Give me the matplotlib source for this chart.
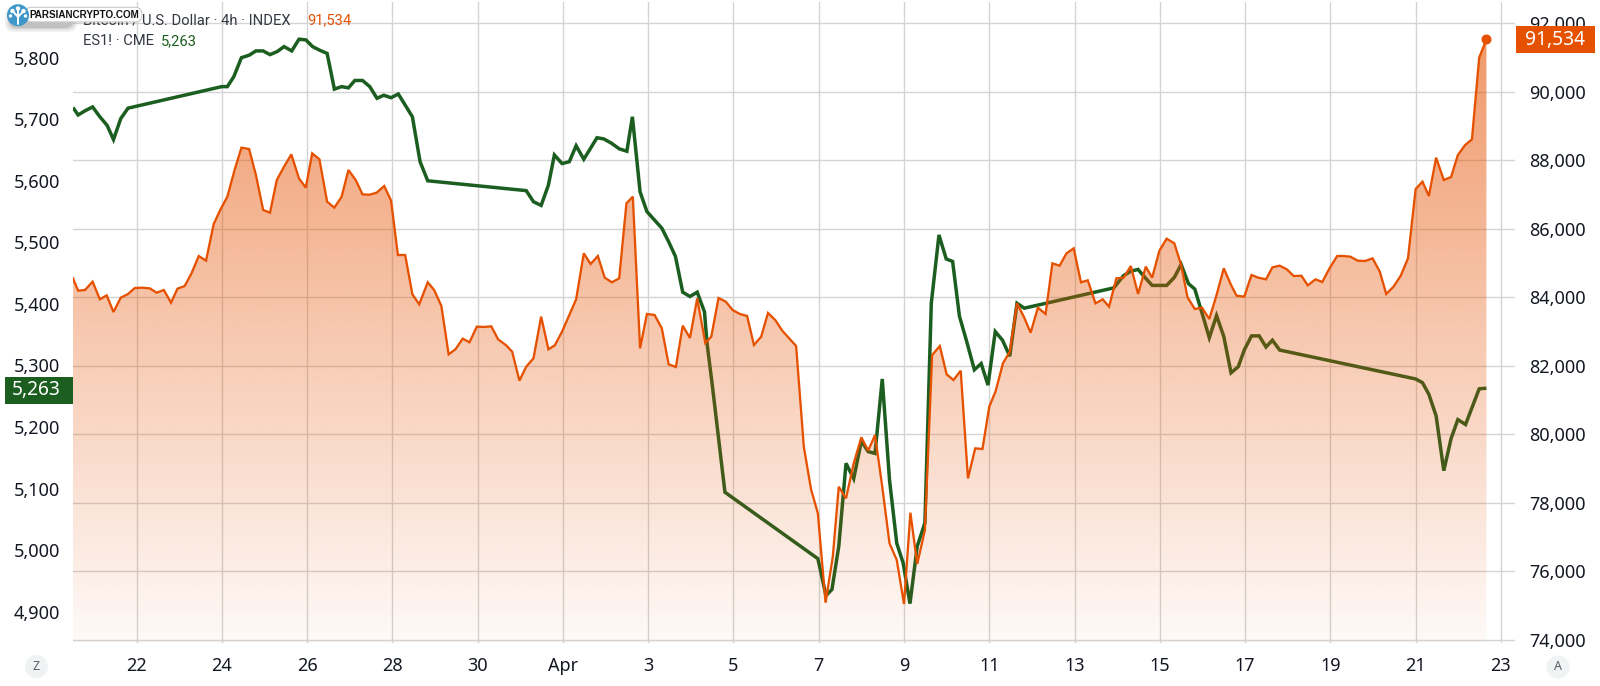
import numpy as np
import matplotlib
matplotlib.use("Agg")
import matplotlib.pyplot as plt
from matplotlib.patches import FancyBboxPatch, Circle, Rectangle, Polygon
from matplotlib.colors import to_rgb

# Day numbers count from March (Mar 22 = 22, Apr 1 = 32, Apr 23 = 54)
btc_days = [20.51,20.63,20.79,20.97,21.14,21.30,21.46,21.63,21.80,21.96,22.13,22.31,22.47,22.64,22.81,22.96,23.13,23.29,23.46,23.63,23.81,23.97,24.13,24.30,24.46,24.64,24.80,24.97,25.13,25.29,25.46,25.63,25.81,25.97,26.12,26.29,26.47,26.64,26.81,26.97,27.14,27.30,27.47,27.63,27.81,27.97,28.13,28.30,28.47,28.63,
            28.83,28.98,29.15,29.32,29.48,29.65,29.81,29.98,30.15,30.32,30.48,30.66,30.81,30.98,31.14,31.31,31.49,31.66,31.81,31.98,32.15,32.31,32.49,32.65,32.82,32.98,33.15,33.32,33.49,33.64,33.81,33.97,34.15,34.32,34.48,34.65,34.81,34.98,35.15,35.34,35.48,35.65,35.82,35.98,36.15,36.32,36.48,36.65,36.81,
            36.98,37.15,37.32,37.47,37.65,37.82,37.98,38.16,38.33,38.47,38.64,38.82,39.00,39.16,39.32,39.49,39.66,39.83,40.00,40.15,40.31,40.49,40.66,40.84,41.00,41.16,41.33,41.50,41.67,41.84,42.00,42.15,42.32,42.48,
            42.65,42.81,42.97,43.14,43.32,43.48,43.65,43.81,43.98,44.15,44.31,44.49,44.66,44.81,44.98,45.15,45.32,45.49,45.67,45.82,45.99,46.16,46.34,46.50,46.65,46.82,46.99,47.16,47.33,47.50,47.67,47.80,47.98,
            48.15,48.31,48.49,48.64,48.81,48.98,49.14,49.32,49.47,49.65,49.81,49.98,50.16,50.32,50.47,50.64,50.81,50.99,51.16,51.31,51.48,51.65,51.82,52.00,52.16,52.31,52.48,52.66,52.83,52.99,53.16,53.32,53.49,53.66]
btc_values = [84557,84197,84216,84459,83944,84060,83574,83992,84099,84274,84284,84265,84138,84216,83846,84255,84333,84703,85209,85073,86143,86571,86941,87720,88372,88333,87574,86552,86474,87428,87817,88177,87476,87204,88206,88031,86795,86620,86941,87720,87428,87009,86999,87058,87252,86824,85238,85238,84090,83798,
              84441,84217,83750,82339,82485,82796,82689,83146,83137,83156,82776,82611,82416,81570,81978,82222,83438,82485,82601,83000,83487,83944,85287,84976,85209,84577,84441,84557,86747,86942,82514,83516,83487,83098,82047,81969,83175,82815,83973,82669,82854,83983,83876,83633,83516,83458,82611,82854,83545,
              83340,83020,82787,82581,79642,78396,77695,75087,76430,78474,78133,79155,79914,79525,79982,78474,76820,76333,75048,77715,76216,77209,82318,82581,81754,81588,81861,78717,79593,79574,80810,81267,82075,82416,
              83827,83438,82971,83701,83516,84995,84927,85287,85433,84440,84499,83827,83944,83730,84557,84576,84917,84100,84898,84576,85365,85715,85579,84946,84002,83662,83701,83370,84070,84849,84362,84051,84021,
              84654,84576,84528,84878,84927,84819,84625,84634,84352,84528,84450,84849,85209,85209,85189,85073,85063,85141,84751,84099,84313,84634,85141,87165,87379,86961,88080,87428,87515,88158,88449,88615,90999,91534]

es_days = [20.51,20.63,20.80,20.97,21.14,21.31,21.46,21.63,21.80,24.00,24.13,24.28,24.46,24.64,24.80,24.97,25.13,25.30,25.46,25.64,25.81,25.97,26.13,26.30,26.47,26.64,26.81,26.97,27.12,27.30,27.47,27.64,27.80,27.97,28.14,28.30,28.47,28.65,28.83,
           31.14,31.31,31.49,31.66,31.80,31.98,32.15,32.31,32.49,32.80,32.96,33.14,33.32,33.50,33.63,33.81,33.97,34.15,34.32,34.48,34.64,34.81,34.98,35.15,35.32,35.38,35.50,35.80,
           37.98,38.17,38.31,38.47,38.64,38.82,39.00,39.16,39.32,39.49,39.66,39.83,39.98,40.14,40.31,40.49,40.64,40.82,40.99,41.14,41.30,41.47,41.65,41.81,41.97,42.14,42.31,42.48,42.65,42.82,
           44.92,45.15,45.32,45.49,45.65,45.82,45.99,46.16,46.34,46.50,46.67,46.82,46.99,47.16,47.33,47.50,47.67,47.84,47.98,48.15,48.33,48.49,48.64,48.81,
           52.00,52.16,52.31,52.48,52.66,52.83,52.99,53.17,53.49,53.66]
es_values = [5719,5707,5714,5720,5704,5690,5667,5701,5718,5753,5753,5769,5800,5804,5811,5811,5805,5810,5818,5811,5830,5829,5818,5812,5807,5749,5753,5751,5763,5763,5753,5734,5739,5735,5741,5723,5704,5631,5600,
             5584,5566,5560,5593,5642,5628,5631,5657,5635,5670,5668,5661,5652,5648,5704,5582,5550,5536,5523,5501,5477,5419,5412,5419,5387,5336,5270,5094,
             4986,4926,4936,5006,5141,5116,5177,5160,5157,5278,5114,5011,4979,4913,5006,5044,5401,5512,5473,5469,5380,5339,5293,5303,5268,5355,5341,5315,5401,5393,
             5426,5446,5453,5456,5443,5430,5430,5430,5443,5464,5433,5424,5385,5345,5381,5347,5288,5298,5325,5348,5348,5330,5341,5325,
             5278,5272,5253,5218,5129,5181,5212,5204,5262,5263]

x_ticks = [22,24,26,28,30,32,34,36,38,40,42,44,46,48,50,52,54]
x_tick_labels = ["22","24","26","28","30","Apr","3","5","7","9","11","13","15","17","19","21","23"]
btc_ticks = [74000,76000,78000,80000,82000,84000,86000,88000,90000,92000]
es_ticks = [4900,5000,5100,5200,5300,5400,5500,5600,5700,5800]

W, H = 1600, 686
ORANGE = "#E65100"
GREEN = "#1B5E20"
TEXT = "#131722"
FONT = "Noto Sans"
TICK = 13.0

fig = plt.figure(figsize=(W/100, H/100), dpi=100, facecolor="white")
L, R, T, B = 73, 1515, 2, 643
rect = [L/W, 1-B/H, (R-L)/W, (B-T)/H]
xlim = (20.51, 54.33)
btc_lim = (73910, 92625)
es_lim = (4849, 5890.5)

axG = fig.add_axes(rect)
axG.set_xlim(xlim); axG.set_ylim(btc_lim)
axG.set_xticks(x_ticks); axG.set_xticklabels(x_tick_labels, fontsize=TICK, color=TEXT, family=FONT)
axG.set_yticks(btc_ticks); axG.set_yticklabels([f"{v:,}" for v in btc_ticks], fontsize=TICK, color=TEXT, family=FONT)
axG.yaxis.tick_right()
axG.tick_params(axis="both", length=0)
axG.tick_params(axis="y", pad=10)
axG.tick_params(axis="x", pad=10)
axG.grid(True, color="#d4d4d4", lw=1.0)
axG.set_axisbelow(True)
for s in axG.spines.values():
    s.set_visible(False)

axL = fig.add_axes(rect, sharex=axG)
axL.patch.set_visible(False)
axL.set_ylim(es_lim)
axL.set_yticks(es_ticks); axL.set_yticklabels([f"{v:,}" for v in es_ticks], fontsize=TICK, color=TEXT, family=FONT)
axL.tick_params(axis="y", length=0, pad=9)
axL.tick_params(axis="x", length=0, labelbottom=False)
for s in axL.spines.values():
    s.set_visible(False)
axL.plot(es_days, es_values, color=GREEN, lw=2.5, solid_joinstyle="miter", solid_capstyle="butt")

axO = fig.add_axes(rect, sharex=axG)
axO.patch.set_visible(False)
axO.set_ylim(btc_lim)
axO.axis("off")
rgb = to_rgb(ORANGE)
n = 256
grad = np.zeros((n, 1, 4))
grad[..., 0], grad[..., 1], grad[..., 2] = rgb
grad[:, 0, 3] = np.linspace(0.62, 0.03, n)
im = axO.imshow(grad, extent=[xlim[0], btc_days[-1], btc_lim[0], btc_lim[1]], origin="upper",
                aspect="auto", interpolation="bilinear", zorder=1)
verts = [(btc_days[0], btc_lim[0])] + list(zip(btc_days, btc_values)) + [(btc_days[-1], btc_lim[0])]
poly = Polygon(verts, closed=True, transform=axO.transData, facecolor="none", edgecolor="none")
axO.add_patch(poly)
im.set_clip_path(poly)
axO.plot(btc_days, btc_values, color=ORANGE, lw=1.65, zorder=3, solid_joinstyle="miter")
axO.plot(btc_days[-1:], btc_values[-1:], "o", color=ORANGE, ms=6.2, zorder=4, clip_on=False)
axO.set_xlim(xlim); axO.set_ylim(btc_lim)

# overlay in pixel coordinates
ov = fig.add_axes([0, 0, 1, 1], zorder=10)
ov.set_xlim(0, W); ov.set_ylim(H, 0); ov.axis("off")

# price tags
ov.add_patch(Rectangle((1516, 25.7), 79, 27.3, facecolor=ORANGE, edgecolor="none", zorder=2))
ov.text(1555.5, 39.5, f"{btc_values[-1]:,}", color="white", fontsize=13.8, ha="center", va="center", family=FONT, weight="semibold", zorder=3)
ov.add_patch(Rectangle((5, 376.7), 68, 27.3, facecolor=GREEN, edgecolor="none", zorder=2))
ov.text(36, 390.3, f"{es_values[-1]:,}", color="white", fontsize=13.8, ha="center", va="center", family=FONT, weight="semibold", zorder=3)

# legend text
lg = dict(fontsize=10.6, family="Roboto", va="center", ha="left", zorder=3)
ov.text(83, 20.5, "Bitcoin / U.S. Dollar · 4h · INDEX", color="#333842", **lg)
ov.text(307, 20.5, f"{btc_values[-1]:,}", color=ORANGE, **lg)
ov.text(83, 41, "ES1! · CME", color="#333842", **lg)
ov.text(161, 41, f"{es_values[-1]:,}", color=GREEN, **lg)

# Z / A buttons
for cx, cy, s in [(36.5, 666.5, "Z"), (1558, 667, "A")]:
    ov.add_patch(Circle((cx, cy), 11.5, facecolor="#F0F3F3", edgecolor="none", zorder=2))
    ov.text(cx, cy, s, fontsize=9, color="#5d606b", ha="center", va="center", family=FONT, zorder=3)

# watermark, on top of the legend
for grow, a in [(5, 0.10), (3.5, 0.14), (2, 0.2), (1, 0.25)]:
    ov.add_patch(FancyBboxPatch((10 - grow, 12 - grow), 62 + 2 * grow, 15 + 2 * grow,
                                boxstyle="round,pad=0,rounding_size=8",
                                facecolor="#8f8f8f", edgecolor="none", alpha=a, zorder=5))
ov.add_patch(FancyBboxPatch((25, 7.3), 117, 14.6, boxstyle="round,pad=0,rounding_size=7",
                            facecolor="white", edgecolor="#c9c9c9", lw=0.8, zorder=6))
ov.text(84, 15.0, "PARSIANCRYPTO.COM", fontsize=7.1, weight="bold", color="#111111",
        ha="center", va="center", family="Liberation Sans", zorder=7)
ov.add_patch(Circle((18, 15.2), 11, facecolor="#3E97C9", edgecolor="none", zorder=7))
for (a, b, c, d) in [(18, 24, 18, 15), (18, 17, 12.5, 11), (18, 17, 23.5, 11), (18, 15, 18, 9)]:
    ov.plot([a, c], [b, d], color="white", lw=1.4, solid_capstyle="round", zorder=8)
for (a, b, r) in [(12.5, 11, 2.2), (23.5, 11, 2.2), (18, 8.5, 2.2), (10.5, 16, 1.7), (25.5, 16, 1.7)]:
    ov.add_patch(Circle((a, b), r, facecolor="white", edgecolor="none", zorder=8))

fig.savefig("out.png", dpi=100, facecolor="white")
